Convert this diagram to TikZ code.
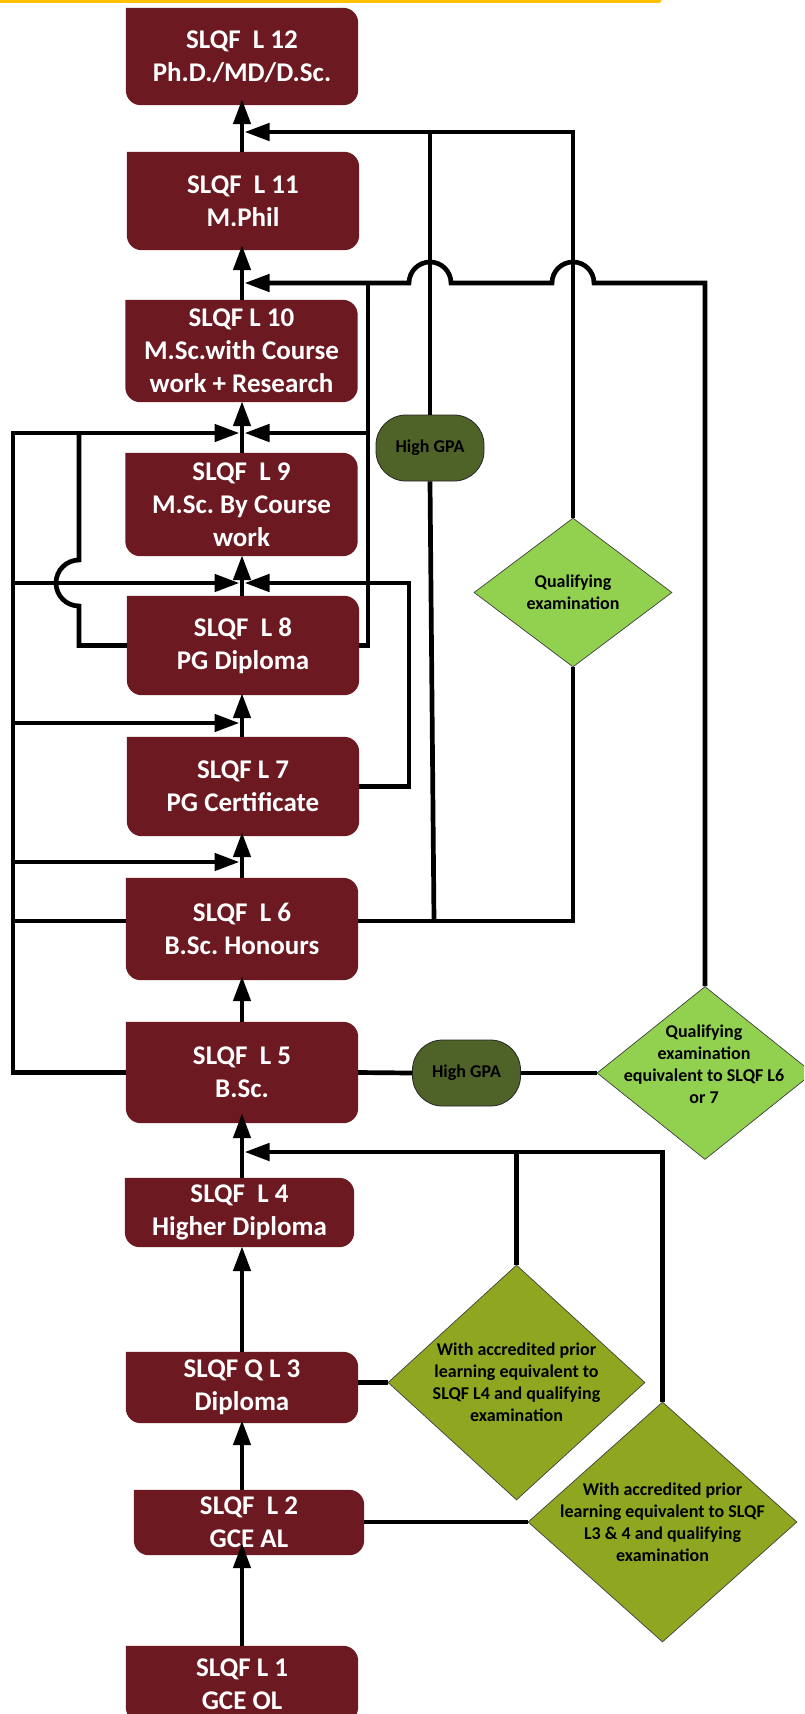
\documentclass[tikz,border=0pt]{standalone}
\usepackage{fontspec}
\setmainfont{Carlito}
\usetikzlibrary{arrows.meta,shapes.geometric,calc}
\frenchspacing
\pgfdeclarelayer{background}
\pgfsetlayers{background,main}
\definecolor{lvlred}{HTML}{6C1921}
\definecolor{gpagreen}{HTML}{4F6228}
\definecolor{lightgrn}{HTML}{92D050}
\definecolor{olivegrn}{HTML}{8EA620}
\definecolor{topyellow}{HTML}{FFC000}
\newcommand\lvlfill[1]{\fill[lvlred] (#1.north west) -- ([xshift=-15pt]#1.north east) arc[start angle=90,end angle=0,radius=15pt] -- ([yshift=15pt]#1.south east) arc[start angle=0,end angle=-90,radius=15pt] -- ([xshift=15pt]#1.south west) arc[start angle=270,end angle=180,radius=15pt] -- cycle;}
\begin{document}
\begin{tikzpicture}[x=1pt,y=1pt,
  lvl/.style={minimum width=232pt, inner sep=0pt, text=white, font=\bfseries\fontsize{27}{33}\selectfont, align=center},
  gpa/.style={draw=black!85, line width=0.8pt, fill=gpagreen, rounded corners=30pt, minimum width=108pt, minimum height=66pt, inner sep=0pt, font=\bfseries\fontsize{18}{22}\selectfont},
  qdiam/.style={diamond, draw=black!75, line width=0.7pt, inner sep=0pt},
  dtext/.style={font=\bfseries\fontsize{18}{22}\selectfont, align=center, inner sep=0pt},
  conn/.style={line width=4.7pt},
  arr/.style={conn, -{Triangle[length=25pt,width=17pt]}}]
\useasboundingbox (0,0) rectangle (804,-1714);
\clip (0,0) rectangle (804,-1714);
\draw[topyellow, line width=5pt, line cap=round] (-5,0) -- (659,0);

% level boxes
\node[lvl, minimum height=97pt] (L12) at (242,-56.5) {SLQF~~L 12\\Ph.D./MD/D.Sc.};
\node[lvl, minimum height=98pt] (L11) at (243,-201) {SLQF~~L 11\\M.Phil};
\node[lvl, minimum height=102pt] (L10) at (241.5,-351) {SLQF L 10\\M.Sc.with Course\\work + Research};
\node[lvl, minimum height=103pt] (L9) at (241.5,-504.5) {SLQF~~L 9\\M.Sc. By Course\\work};
\node[lvl, minimum height=99pt] (L8) at (243,-645.5) {SLQF~~L 8\\PG Diploma};
\node[lvl, minimum height=99pt] (L7) at (243,-786.5) {SLQF L 7\\PG Certificate};
\node[lvl, minimum height=102pt] (L6) at (242,-929) {SLQF~~L 6\\B.Sc. Honours};
\node[lvl, minimum height=101pt] (L5) at (242,-1072.5) {SLQF~~L 5\\B.Sc.};
\node[lvl, minimum width=229pt, minimum height=69pt] (L4) at (239.5,-1212.5) {SLQF~~L 4\\Higher Diploma};
\node[lvl, minimum height=71pt] (L3) at (242,-1387.5) {SLQF Q L 3\\Diploma};
\node[lvl, minimum width=230pt, minimum height=65pt] (L2) at (249,-1522.5) {SLQF~~L 2\\GCE AL};
\node[lvl, minimum height=76pt] (L1) at (242,-1684) {SLQF L 1\\GCE OL};
\begin{pgfonlayer}{background}
\foreach \n in {1,...,12} {\lvlfill{L\n}}
\end{pgfonlayer}

% side shapes
\node[gpa] (gpa1) at (430,-448) {High GPA};
\node[gpa] (gpa2) at (466.5,-1073) {High GPA};
\node[qdiam, fill=lightgrn, minimum width=198pt, minimum height=149pt] (qe) at (573,-592.5) {};
\node[dtext] (qet) at (qe.center) {Qualifying\\examination};
\node[qdiam, fill=lightgrn, minimum width=216pt, minimum height=173pt] (bigD) at (705,-1073) {};
\node[dtext] (bigDt) at (704,-1064) {Qualifying\\examination\\equivalent to SLQF L6\\or 7};
\node[qdiam, fill=olivegrn, minimum width=257pt, minimum height=235pt] (dA) at (516.5,-1382.5) {};
\node[dtext] (dAt) at (dA.center) {With accredited prior\\learning equivalent to\\SLQF L4 and qualifying\\examination};
\node[qdiam, fill=olivegrn, minimum width=269pt, minimum height=240pt] (dB) at (662.5,-1522) {};
\node[dtext] (dBt) at (dB.center) {With accredited prior\\learning equivalent to SLQF\\L3 \& 4 and qualifying\\examination};

% helper coordinates
\coordinate (sp) at (242,0);
\coordinate (h132) at (0,-132);
\coordinate (h283) at (0,-283);
\coordinate (h433) at (0,-433);
\coordinate (h583) at (0,-583);
\coordinate (h723) at (0,-723);
\coordinate (h862) at (0,-862);
\coordinate (c6) at (0,-921);
\coordinate (h1152) at (0,-1152);
\coordinate (xL) at (13,0);
\coordinate (xI) at (79,0);
\coordinate (xR8) at (368,0);
\coordinate (xR7) at (409,0);
\coordinate (r132) at (244.5,-132);
\coordinate (r283) at (244.5,-283);
\coordinate (r433) at (244.5,-433);
\coordinate (r583) at (244.5,-583);
\coordinate (r1152) at (244.5,-1152);
\coordinate (l433) at (239.5,-433);
\coordinate (l583) at (239.5,-583);
\coordinate (l723) at (239.5,-723);
\coordinate (l862) at (239.5,-862);

% spine
\foreach \a/\b/\s in {L1/L2/12, L2/L3/3, L3/L4/1, L4/L5/10, L5/L6/4, L6/L7/4, L7/L8/2, L8/L9/1, L9/L10/1, L10/L11/5, L11/L12/6}
  {\draw[arr, shorten >=-\s pt] (\a.north -| sp) -- (\b.south -| sp);}

% right side, top
\draw[arr] (qe.north) |- (r132);
\draw[conn] (gpa1.north) -- (gpa1.north |- h132);
\draw[arr] (bigD.north) -- (bigD.north |- h283) -- ($(qe.north |- h283)+(21,0)$) arc[start angle=0,end angle=180,radius=21pt] -- ($(gpa1.north |- h283)+(21,0)$) arc[start angle=0,end angle=180,radius=21pt] -- (r283);
\draw[conn] (L8.east) -- (L8.east -| xR8) -- (xR8 |- h283);
\draw[arr] (xR8 |- h433) -- (r433);
\draw[arr] (L7.east) -- (L7.east -| xR7) -- (xR7 |- h583) -- (r583);
\draw[conn] (L6.east |- c6) -| (qe.south);
\draw[conn] (gpa1.south) -- ($(gpa1.south |- c6)+(4,0)$);

% left side
\draw[arr] (L5.west) -- (L5.west -| xL) -- (xL |- h433) -- (l433);
\draw[conn] (L6.west |- c6) -- (xL |- c6);
\draw[arr] (xL |- h583) -- (l583);
\draw[arr] (xL |- h723) -- (l723);
\draw[arr] (xL |- h862) -- (l862);
\draw[conn] (xI |- h433) -- ($(xI |- h583)+(0,23)$) arc[start angle=90,end angle=270,radius=23pt] -- (L8.west -| xI) -- (L8.west);

% lower right
\draw[conn] (L5.east) -- (gpa2.west);
\draw[conn] (gpa2.east) -- (bigD.west);
\draw[arr] (dB.north) |- (r1152);
\draw[conn] (dA.north) -- (dA.north |- h1152);
\draw[conn] (L3.east |- dA.west) -- (dA.west);
\draw[conn] (L2.east |- dB.west) -- (dB.west);
\end{tikzpicture}
\end{document}
